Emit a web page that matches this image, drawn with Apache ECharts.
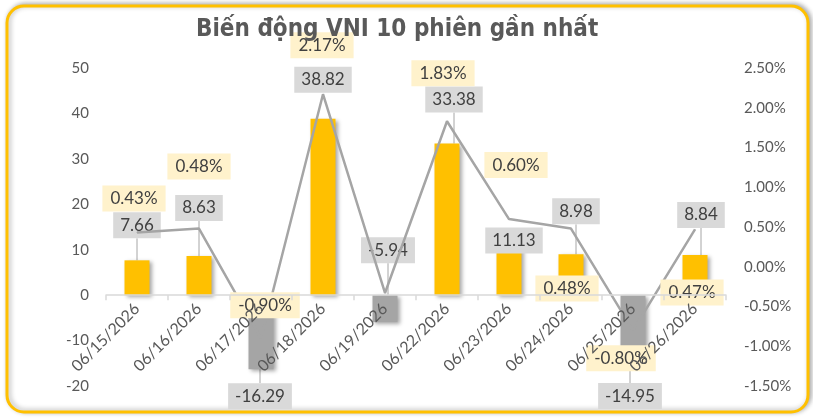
<!DOCTYPE html>
<html>
<head>
<meta charset="utf-8">
<script src="https://cdn.jsdelivr.net/npm/echarts@6/dist/echarts.min.js"></script>
<style>
html,body{margin:0;padding:0;background:#fff;}
#chart{width:813px;height:420px;}
</style>
</head>
<body>
<div id="chart"></div>
<script>
// ---- data ----
var titleText = 'Biến động VNI 10 phiên gần nhất';
var categories = ['06/15/2026','06/16/2026','06/17/2026','06/18/2026','06/19/2026','06/22/2026','06/23/2026','06/24/2026','06/25/2026','06/26/2026'];
var pointChange = [7.66, 8.63, -16.29, 38.82, -5.94, 33.38, 11.13, 8.98, -14.95, 8.84];
var pctChange = [0.43, 0.48, -0.90, 2.17, -0.33, 1.83, 0.60, 0.48, -0.80, 0.47];

// ---- label placement (offsets in px from bar end / line point) ----
var barLabelOffset = [[0,-35],[0,-48],[-1,27],[0,-39],[3,-72],[7,-44],[5,-4],[5,-43],[-3,33],[6,-40]];
var lineLabelOffset = [[-3,-34],[0,-62],[4,-33],[-1,-49],[0,0],[-4,-48],[7,-54],[-4,60],[-12,28],[-3,63]];
var hiddenLineLabels = [4];
var noLeaderBars = [3,6];

var YELLOW = '#FFC000', GRAY = '#A5A5A5', TXT = '#595959';
var LEFT_MIN = -20, LEFT_MAX = 50;
var GRID_TOP = 68, GRID_BOTTOM = 34, CHART_H = 420;

var barData = pointChange.map(function(v,i){
  return {value:v, itemStyle:{color: v<0 ? GRAY : YELLOW}, labelLine:{show: noLeaderBars.indexOf(i)<0}};
});
var lineData = pctChange.map(function(v,i){
  return hiddenLineLabels.indexOf(i)>=0 ? {value:v, label:{show:false}} : {value:v};
});
// move the category axis up from the grid bottom to the zero line of the left axis
var plotH = CHART_H - GRID_TOP - GRID_BOTTOM;
var zeroOffset = -plotH * (0 - LEFT_MIN) / (LEFT_MAX - LEFT_MIN);

var chart = echarts.init(document.getElementById('chart'), null, {renderer:'canvas'});
var option = {
  animation:false,
  backgroundColor:'#ffffff',
  graphic:[{
    type:'rect', z:-100, silent:true,
    shape:{x:7, y:6, width:801, height:406, r:17},
    style:{fill:'#ffffff', stroke:YELLOW, lineWidth:3, shadowBlur:5, shadowColor:'rgba(0,0,0,0.3)', shadowOffsetX:2, shadowOffsetY:-1}
  }],
  title:{
    text:titleText, left:191, top:13,
    textStyle:{fontFamily:'DejaVu Sans Condensed', fontWeight:'bold', fontSize:24, color:TXT}
  },
  grid:{left:106, right:87, top:GRID_TOP, bottom:GRID_BOTTOM, containLabel:false, outerBoundsMode:'none'},
  xAxis:{
    type:'category', data:categories, z:10, offset:zeroOffset,
    axisLine:{onZero:false, lineStyle:{color:'#D9D9D9', width:1.5}},
    axisTick:{show:true, length:5, lineStyle:{color:'#D9D9D9', width:1.5}},
    axisLabel:{rotate:45, margin:11, color:TXT, fontFamily:'Lato', fontSize:16, interval:0},
    splitLine:{show:false}
  },
  yAxis:[{
    type:'value', min:LEFT_MIN, max:LEFT_MAX, interval:10,
    axisLine:{show:false}, axisTick:{show:false}, splitLine:{show:false},
    axisLabel:{color:TXT, fontFamily:'Lato', fontSize:15, margin:17}
  },{
    type:'value', min:-1.5, max:2.5, interval:0.5,
    axisLine:{show:false}, axisTick:{show:false}, splitLine:{show:false},
    axisLabel:{color:TXT, fontFamily:'Lato', fontSize:15, margin:18, formatter:function(v){return v.toFixed(2)+'%';}}
  }],
  series:[{
    type:'bar', yAxisIndex:0, data:barData, barWidth:25,
    itemStyle:{shadowBlur:4, shadowColor:'rgba(0,0,0,0.35)', shadowOffsetX:2, shadowOffsetY:2},
    label:{show:true, position:'inside', color:'#404040', fontFamily:'Lato', fontSize:17,
      backgroundColor:'#D9D9D9', padding:[5,7,4,7], formatter:function(p){return p.value.toFixed(2);}},
    labelLine:{show:true, lineStyle:{color:'#A6A6A6', width:1}},
    labelLayout:function(p){
      var i=p.dataIndex, v=pointChange[i], r=p.rect;
      var end = v<0 ? r.y+r.height : r.y;
      var o = barLabelOffset[i];
      return {x:r.x+r.width/2+o[0], y:end+o[1], align:'center', verticalAlign:'middle'};
    }
  },{
    type:'line', yAxisIndex:1, data:lineData, z:3,
    symbol:'circle', symbolSize:1, showSymbol:true,
    lineStyle:{color:GRAY, width:2.5}, itemStyle:{color:GRAY},
    label:{show:true, position:'inside', color:'#404040', fontFamily:'Lato', fontSize:17,
      backgroundColor:'#FFF2CC', padding:[5,8,4,8], formatter:function(p){return p.value.toFixed(2)+'%';}},
    labelLayout:function(p){
      var i=p.dataIndex, r=p.rect, o=lineLabelOffset[i];
      return {x:r.x+r.width/2+o[0], y:r.y+r.height/2+o[1], align:'center', verticalAlign:'middle'};
    }
  }]
};
chart.setOption(option);
</script>
</body>
</html>
